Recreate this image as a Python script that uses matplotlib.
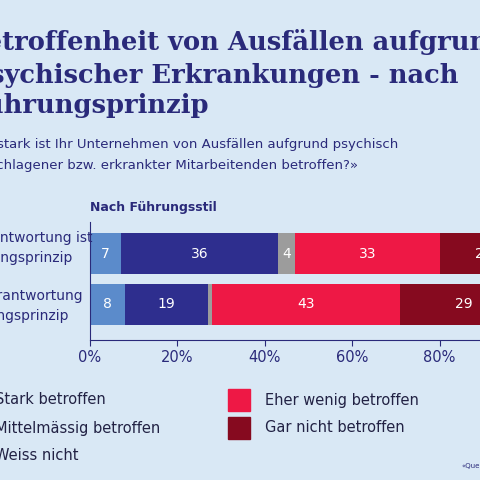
import numpy as np
import matplotlib.pyplot as plt
from matplotlib.patches import Rectangle

categories = ["Eigenverantwortung ist\nFührungsprinzip", "Eigenverantwortung\nkein Führungsprinzip"]
series = ["Stark betroffen", "Mittelmässig betroffen", "Weiss nicht",
          "Eher wenig betroffen", "Gar nicht betroffen"]
values = np.array([
    [7, 36, 4, 33, 20],
    [8, 19, 1, 43, 29],
])
colors = ["#5b8bcb", "#2e2e8e", "#9c9c9c", "#ee1845", "#860a1f"]
bg = "#d9e8f5"
navy = "#2a2a7a"

fig = plt.figure(figsize=(4.8, 4.8), dpi=100, facecolor=bg)

def px(x, y):
    return x / 480, 1 - y / 480

# title, cropped at the left like the reference
title_lines = [("Betroffenheit von Ausfällen aufgrund", -36, 42),
               ("psychischer Erkrankungen - nach", -28, 75),
               ("Führungsprinzip", -32, 105)]
for s, x, y in title_lines:
    fig.text(*px(x, y), s, fontsize=18.5, fontweight="bold", family="DejaVu Serif",
             color=navy, va="center")
sub_lines = [("«Wie stark ist Ihr Unternehmen von Ausfällen aufgrund psychisch", -40, 145),
             ("angeschlagener bzw. erkrankter Mitarbeitenden betroffen?»", -44, 166)]
for s, x, y in sub_lines:
    fig.text(*px(x, y), s, fontsize=9.5, color=navy, va="center")

fig.text(*px(90, 207), "Nach Führungsstil", fontsize=9, fontweight="bold", color=navy, va="center")

ax = fig.add_axes([90 / 480, 1 - 340 / 480, 437 / 480, 118 / 480])
ax.set_facecolor(bg)
y = np.arange(len(categories))
left = np.zeros(len(categories))
for j, name in enumerate(series):
    ax.barh(y, values[:, j], left=left, height=0.82, color=colors[j])
    for i in range(len(categories)):
        v = values[i, j]
        if v >= 3:
            ax.text(left[i] + v / 2, y[i], str(v), ha="center", va="center",
                    color="white", fontsize=10)
    left += values[:, j]
ax.set_xlim(0, 100)
ax.set_ylim(1.7, -0.62)
ax.set_xticks([0, 20, 40, 60, 80, 100])
ax.set_xticklabels([f"{t}%" for t in [0, 20, 40, 60, 80, 100]], color=navy, fontsize=10.5)
ax.set_yticks([])
for s in ["top", "right"]:
    ax.spines[s].set_visible(False)
for s in ["left", "bottom"]:
    ax.spines[s].set_color(navy)
ax.tick_params(axis="x", colors=navy, length=4)

# category labels, cropped at the left (each line placed on its own)
cat_pos = [[(-70, 238), (-38, 258)], [(-58, 296), (-76, 316)]]
for lines, c in zip(cat_pos, categories):
    for (x, yy), s in zip(lines, c.split("\n")):
        fig.text(*px(x, yy), s, fontsize=10, color=navy, va="center")

# legend
leg = [(-25, 400), (-25, 428), (-25, 456), (228, 400), (228, 428)]
for (x, yy), name, col in zip(leg, series, colors):
    fig.patches.append(Rectangle(px(x, yy + 11), 22 / 480, 22 / 480, color=col,
                                 transform=fig.transFigure))
    fig.text(*px(x + 37 if x > 0 else -5, yy), name, fontsize=10.5, color="#222244", va="center")

fig.text(*px(461, 466), "«Quelle", fontsize=5, color=navy, va="center")

fig.savefig("out.png", dpi=100, facecolor=bg)
